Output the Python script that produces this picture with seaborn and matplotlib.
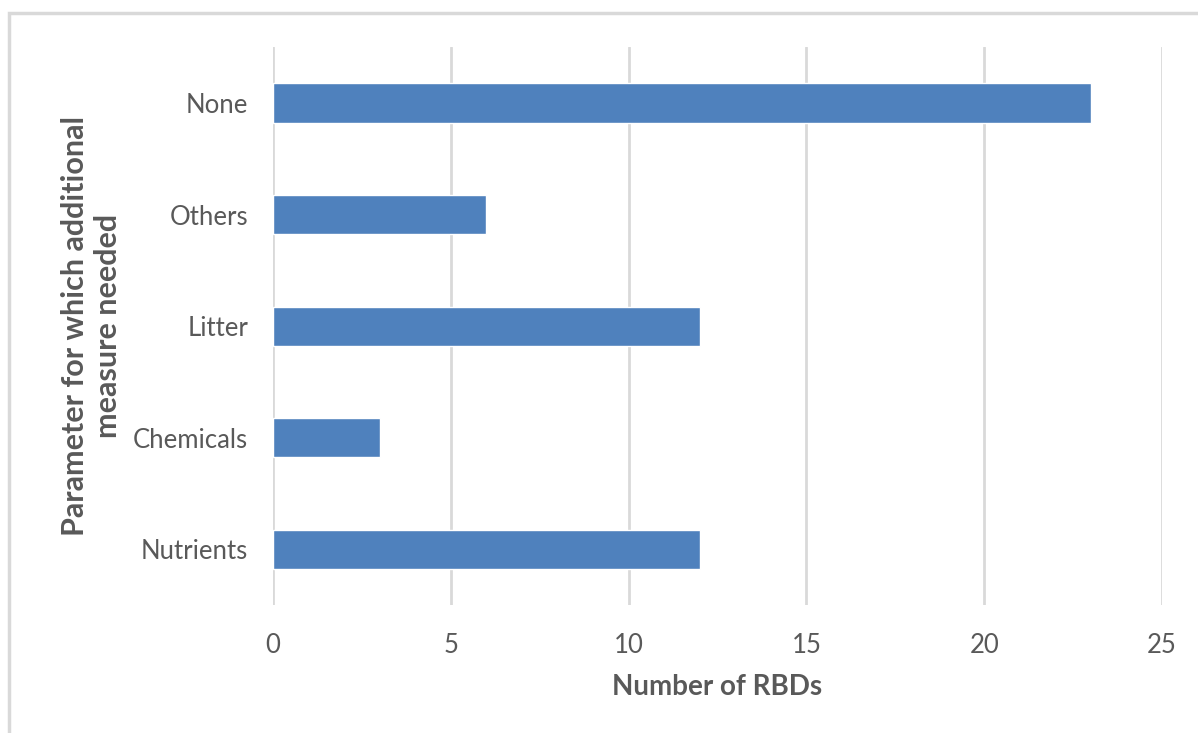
import matplotlib
matplotlib.use("Agg")
import matplotlib.pyplot as plt
import seaborn as sns
import pandas as pd
from matplotlib.patches import Rectangle

# Data (top to bottom)
categories = ["None", "Others", "Litter", "Chemicals", "Nutrients"]
counts = [23, 6, 12, 3, 12]
x_ticks = [0, 5, 10, 15, 20, 25]

df = pd.DataFrame({"Parameter": categories, "Count": counts})

sns.set_theme(style="white")
plt.rcParams["font.family"] = ["Lato", "DejaVu Sans"]
text_grey = "#595959"

fig = plt.figure(figsize=(11.98, 7.33), dpi=100)
ax = fig.add_axes([0.2279, 0.1746, 0.742, 0.761])

sns.barplot(data=df, x="Count", y="Parameter", order=categories,
            color="#4F81BD", saturation=1, width=0.35, ax=ax)

ax.set_xlim(0, 25)
ax.set_ylim(4.5, -0.5)
ax.set_xticks(x_ticks)
ax.set_xticklabels([str(t) for t in x_ticks])
ax.xaxis.grid(True, color="#D9D9D9", linewidth=2)
ax.set_axisbelow(True)
for s in ax.spines.values():
    s.set_visible(False)
ax.tick_params(axis="both", length=0, labelsize=18.5, labelcolor=text_grey)
ax.tick_params(axis="x", pad=20)
ax.tick_params(axis="y", pad=18)

ax.set_xlabel("Number of RBDs", fontsize=20, fontweight="bold",
              color=text_grey, labelpad=12)
ax.set_ylabel("Parameter for which additional\nmeasure needed", fontsize=22,
              fontweight="bold", color=text_grey, labelpad=8)

# light grey chart frame
fig.patches.append(Rectangle((9 / 1198, -0.1), 1.2, 1 - 13 / 733 + 0.1,
                             transform=fig.transFigure, fill=False,
                             edgecolor="#D9D9D9", linewidth=2.5))

fig.savefig("out.png", dpi=100)
